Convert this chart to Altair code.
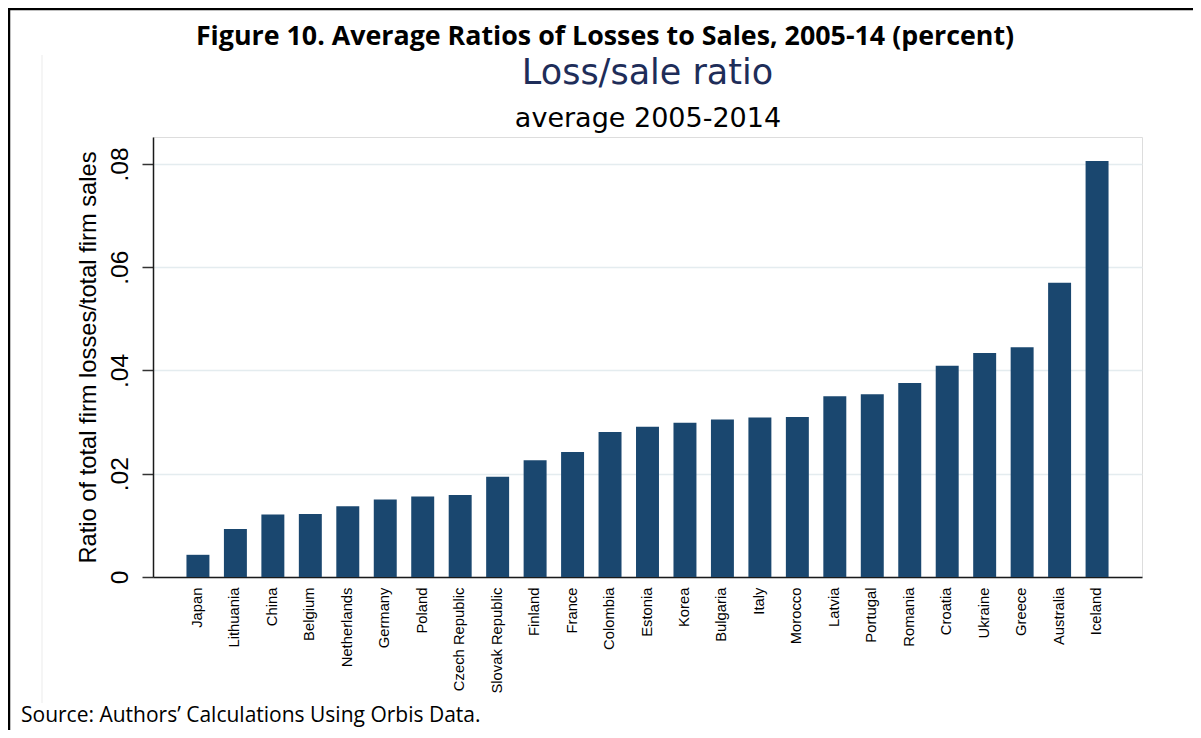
import altair as alt
import pandas as pd

countries = ["Japan", "Lithuania", "China", "Belgium", "Netherlands", "Germany", "Poland",
             "Czech Republic", "Slovak Republic", "Finland", "France", "Colombia", "Estonia",
             "Korea", "Bulgaria", "Italy", "Morocco", "Latvia", "Portugal", "Romania",
             "Croatia", "Ukraine", "Greece", "Australia", "Iceland"]
ratios = [0.0043, 0.0093, 0.0121, 0.0122, 0.0137, 0.0150, 0.0156, 0.0159, 0.0194, 0.0226,
          0.0242, 0.0281, 0.0291, 0.0299, 0.0305, 0.0309, 0.0310, 0.0350, 0.0354, 0.0376,
          0.0409, 0.0434, 0.0445, 0.0570, 0.0806]
y_ticks = [0, 0.02, 0.04, 0.06, 0.08]

fig_title = "Figure 10. Average Ratios of Losses to Sales, 2005-14 (percent)"
chart_title = "Loss/sale ratio"
chart_subtitle = "average 2005-2014"
y_title = "Ratio of total firm losses/total firm sales"
source_note = "Source: Authors\u2019 Calculations Using Orbis Data."

df = pd.DataFrame({"country": countries, "ratio": ratios})

W, H = 989, 440
BAR = "#1a476f"

bars = alt.Chart(df).mark_bar(color=BAR).encode(
    x=alt.X("country:N", sort=None, title=None,
            scale=alt.Scale(paddingInner=0.387, paddingOuter=0.893),
            axis=alt.Axis(labelAngle=270, labelAlign="right", labelBaseline="middle",
                          labelPadding=10, ticks=False, labelFont="Liberation Sans",
                          labelFontSize=14.8, labelColor="#000000", domainColor="#1a1a1a",
                          domainWidth=1.5, labelOverlap=False, grid=False)),
    y=alt.Y("ratio:Q", title=y_title,
            scale=alt.Scale(domain=[0, 0.08523], nice=False, zero=True),
            axis=alt.Axis(values=y_ticks,
                          labelExpr="datum.value == 0 ? '0' : replace(format(datum.value, '.2f'), '0.', '.')",
                          labelAngle=270, labelAlign="center", labelBaseline="alphabetic",
                          labelPadding=15, tickSize=11, tickColor="#333333", tickWidth=1.5,
                          labelFont="Liberation Sans", labelFontSize=24.5, labelColor="#000000",
                          domainColor="#1a1a1a", domainWidth=1.5,
                          grid=True, gridColor="#e4ecef", gridWidth=1.5,
                          titleFont="Liberation Sans", titleFontSize=23.7, titleFontWeight="normal",
                          titleColor="#000000", titleAngle=270, titleAlign="center",
                          titleBaseline="alphabetic", titleX=-58, titleY=H / 2)),
)


def text_layer(txt, x, y, size, font, color="#000000", weight="normal", align="center"):
    return alt.Chart(alt.Data(values=[{"t": txt}])).mark_text(
        font=font, fontSize=size, fontWeight=weight, color=color, align=align,
        baseline="alphabetic"
    ).encode(text="t:N", x=alt.value(x), y=alt.value(y))


def rule_layer(x, x2, y, y2, color, width):
    return alt.Chart(alt.Data(values=[{"a": 1}])).mark_rule(
        color=color, strokeWidth=width
    ).encode(x=alt.value(x), x2=alt.value(x2), y=alt.value(y), y2=alt.value(y2))


layers = [
    rule_layer(-111, -111, -82, 566, "#ebebeb", 1),
    rule_layer(-145, 1040, -128, -128, "#000000", 2.5),
    rule_layer(-144, -144, -129, 600, "#000000", 2.5),
    bars,
    text_layer(fig_title, 452, -92, 26.8, "Open Sans", weight="bold"),
    text_layer(chart_title, 494.5, -52.7, 35, "DejaVu Sans", color="#1e2d59"),
    text_layer(chart_subtitle, 495, -10.3, 27, "DejaVu Sans"),
    text_layer(source_note, -132, 585, 21, "Open Sans", align="left"),
]

chart = alt.layer(*layers).properties(
    width=W, height=H,
    autosize=alt.AutoSizeParams(type="none"),
    padding={"left": 145, "top": 129, "right": 51, "bottom": 153},
).configure_view(stroke=None).configure(background="#ffffff")

chart.save("out.html", embed_options={"renderer": "svg", "actions": False})
